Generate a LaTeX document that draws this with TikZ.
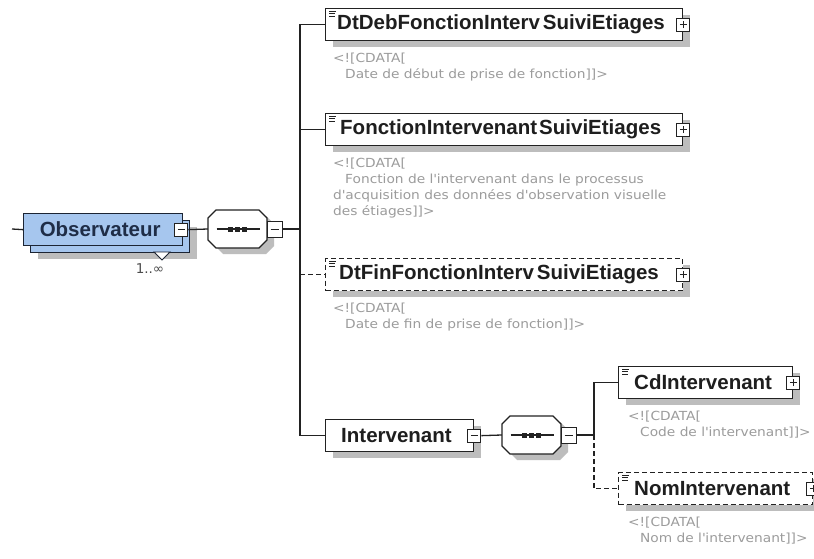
\documentclass[tikz,border=0pt]{standalone}
\usepackage{fontspec}
\setmainfont{Liberation Sans}
\newfontfamily\cdfont[FakeStretch=1.1]{DejaVu Sans}
\newfontfamily\symfont{DejaVu Sans}
\usetikzlibrary{shadows}
\definecolor{linec}{HTML}{222222}
\definecolor{labelc}{HTML}{1E1E1E}
\definecolor{obsblue}{HTML}{A6C6EE}
\definecolor{obsborder}{HTML}{1C2433}
\definecolor{obstext}{HTML}{1F2D47}
\definecolor{cdatac}{HTML}{9C9C9C}
\definecolor{shadowc}{HTML}{BDBDBD}

\newcommand\seqcomp[3]{%
  \fill[octashadow] (#2-21.5+7,#3-19+6) -- ++(43,0) -- ++(8,8) -- ++(0,22) -- ++(-8,8) -- ++(-43,0) -- ++(-8,-8) -- ++(0,-22) -- cycle;
  \draw[octa] (#2-21.5,#3-19) -- ++(43,0) -- ++(8,8) -- ++(0,22) -- ++(-8,8) -- ++(-43,0) -- ++(-8,-8) -- ++(0,-22) -- cycle;
  \node[seqanchor] (#1) at (#2,#3) {};
  \draw[conn] (#2-21,#3) -- (#2+22,#3);
  \foreach \sx in {-7,0,7} \fill[linec] (#2+\sx-2.8,#3-2.5) rectangle (#2+\sx+2.8,#3+2.5);
  \node[pmseq] (#1m) at (#2+37,#3) {};
  \draw[sign] ([xshift=-4pt]#1m.center) -- ([xshift=4pt]#1m.center);
}
\newcommand\elemicon[1]{%
  \draw[icon] ([xshift=4pt,yshift=-3pt]#1.north west) -- ++(7,0)
              ([xshift=4pt,yshift=-5.5pt]#1.north west) -- ++(6,0)
              ([xshift=4pt,yshift=-8pt]#1.north west) -- ++(6,0);
}
\newcommand\plusbox[2]{%
  \node[pm] (#1) at (#2) {};
  \draw[sign] ([xshift=-3.5pt]#1.center) -- ([xshift=3.5pt]#1.center)
              ([yshift=-3.5pt]#1.center) -- ([yshift=3.5pt]#1.center);
}
\newcommand\minusbox[2]{%
  \node[pm] (#1) at (#2) {};
  \draw[sign] ([xshift=-3.5pt]#1.center) -- ([xshift=3.5pt]#1.center);
}

\begin{document}
\begin{tikzpicture}[x=1pt,y=-1pt,
  boxshadow/.style={drop shadow={shadow xshift=7pt,shadow yshift=-6pt,fill=shadowc,opacity=1}},
  elem/.style={draw=linec,fill=white,line width=1.3pt,inner sep=0pt,minimum height=32pt,anchor=north west,boxshadow},
  optelem/.style={elem,dash pattern=on 5pt off 3pt},
  obsfront/.style={draw=obsborder,fill=obsblue,line width=1.3pt,inner sep=0pt,minimum width=159pt,minimum height=32pt,anchor=north west},
  obsback/.style={obsfront,boxshadow},
  pm/.style={draw=linec,fill=white,line width=1pt,inner sep=0pt,minimum width=13pt,minimum height=13pt},
  pmseq/.style={pm,minimum width=15pt,minimum height=16pt},
  sign/.style={draw=linec,line width=1pt},
  lbl/.style={anchor=west,inner sep=0pt,text=labelc,font=\fontsize{20.5}{24}\selectfont\bfseries},
  obslbl/.style={lbl,anchor=center,text=obstext},
  cdata/.style={anchor=north west,inner sep=0pt,align=left,text=cdatac,font=\cdfont\fontsize{12.5}{16}\selectfont},
  mult/.style={inner sep=0pt,text=labelc!80,font=\symfont\fontsize{13.5}{15}\selectfont},
  conn/.style={draw=linec,line width=1.3pt},
  optconn/.style={conn,dash pattern=on 5pt off 3pt},
  icon/.style={draw=linec,line width=0.9pt},
  tri/.style={draw=obsborder,fill=white,line width=0.9pt},
  seqanchor/.style={minimum width=59pt,minimum height=38pt,inner sep=0pt,draw=none},
  octa/.style={draw=linec,fill=white,line width=1.3pt},
  octashadow/.style={fill=shadowc}
]
\useasboundingbox (0,0) rectangle (814,559);
\fill[white] (0,0) rectangle (814,559);

% ---- Observateur (repeated element)
\node[obsback] (obsb) at (30,220) {};
\draw[tri] (154,252) -- (170,252) -- (162,260) -- cycle;
\node[obsfront] (obs) at (23,213) {};
\node[obslbl] (obsl) at ([xshift=-3pt]obs.center) {Observateur};
\minusbox{obsm}{[xshift=-2pt]obs.east}
\node[mult] (mul) at (150,269) {1..∞};
\coordinate (stub) at (12,229);
\draw[conn] (stub) -- (obs.west);

% ---- sequence 1
\seqcomp{s1}{237.5}{229}
\draw[conn] (obsm.east) -- (s1.west);
\coordinate (j1) at (300,229);
\draw[conn] (s1m.east) -- (j1);

% ---- children of sequence 1
\node[elem,minimum width=357pt] (dtdeb) at (325,8) {};
\elemicon{dtdeb}
\node[lbl] (dtdebl) at ([xshift=12pt]dtdeb.west) {DtDebFonctionInterv\kern3ptSuiviEtiages};
\plusbox{dtdebp}{dtdeb.east}
\node[cdata] (dtdebc) at (333,53) {<![CDATA[\\\hspace*{12pt}Date de début de prise de fonction]]>};

\node[elem,minimum width=357pt] (fonct) at (325,113) {};
\elemicon{fonct}
\node[lbl] (fonctl) at ([xshift=15pt]fonct.west) {FonctionIntervenant\kern2ptSuiviEtiages};
\plusbox{fonctp}{fonct.east}
\node[cdata] (fonctc) at (333,158) {<![CDATA[\\\hspace*{12pt}Fonction de l\textquotesingle intervenant dans le processus\\d\textquotesingle acquisition des données d\textquotesingle observation visuelle\\des étiages]]>};

\node[optelem,minimum width=357pt] (dtfin) at (325,258) {};
\elemicon{dtfin}
\node[lbl] (dtfinl) at ([xshift=14pt]dtfin.west) {DtFinFonctionInterv\kern3ptSuiviEtiages};
\plusbox{dtfinp}{dtfin.east}
\node[cdata] (dtfinc) at (333,303) {<![CDATA[\\\hspace*{12pt}Date de fin de prise de fonction]]>};

\node[elem,minimum width=148pt] (interv) at (325,419) {};
\node[lbl] (intervl) at ([xshift=16pt]interv.west) {Intervenant};
\minusbox{intervm}{interv.east}

\draw[conn] (j1) |- (dtdeb.west);
\draw[conn] (j1) |- (fonct.west);
\draw[conn] (j1) |- (interv.west);
\draw[optconn] (j1 |- dtfin.west) -- (dtfin.west);

% ---- sequence 2
\seqcomp{s2}{531.5}{435}
\draw[conn] (intervm.east) -- (s2.west);
\coordinate (j2) at (594,435);
\draw[conn] (s2m.east) -- (j2);

\node[elem,minimum width=174pt] (cdint) at (618,366) {};
\elemicon{cdint}
\node[lbl] (cdintl) at ([xshift=16pt]cdint.west) {CdIntervenant};
\plusbox{cdintp}{cdint.east}
\node[cdata] (cdintc) at (628,411) {<![CDATA[\\\hspace*{12pt}Code de l\textquotesingle intervenant]]>};

\node[optelem,minimum width=194pt] (nomint) at (618,472) {};
\elemicon{nomint}
\node[lbl] (nomintl) at ([xshift=16pt]nomint.west) {NomIntervenant};
\plusbox{nomintp}{nomint.east}
\node[cdata] (nomintc) at (628,517) {<![CDATA[\\\hspace*{12pt}Nom de l\textquotesingle intervenant]]>};

\draw[conn] (j2) |- (cdint.west);
\draw[optconn] (j2) |- (nomint.west);
\end{tikzpicture}
\end{document}
